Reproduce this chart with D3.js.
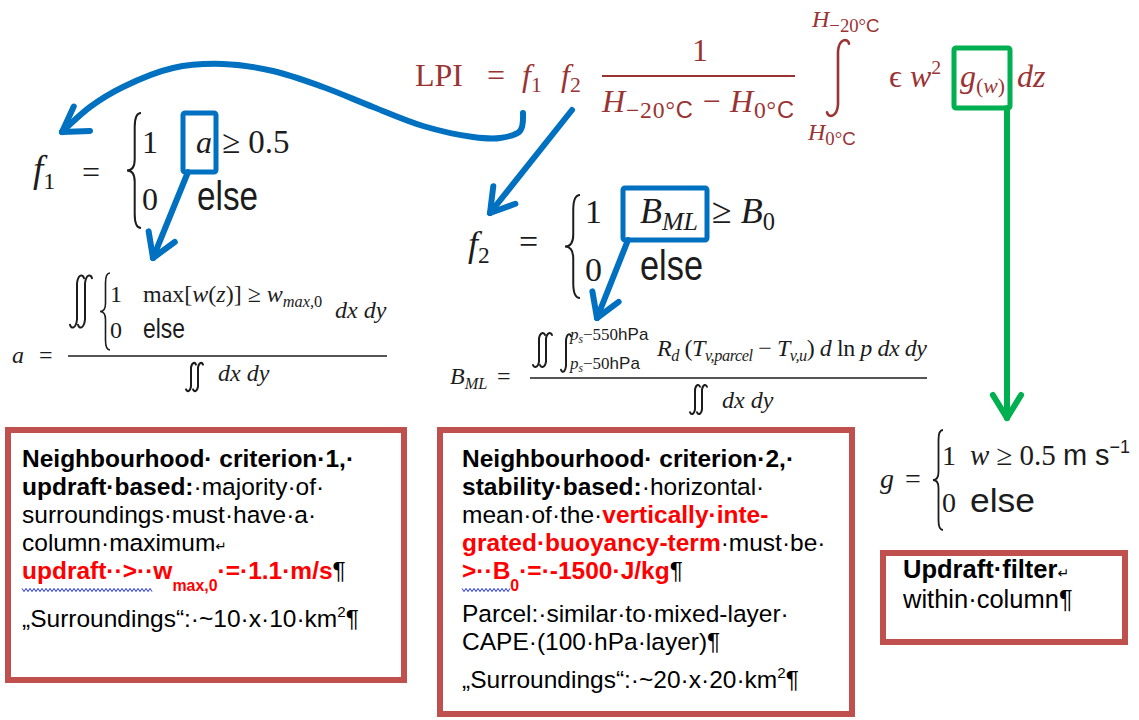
<!DOCTYPE html>
<html>
<head>
<meta charset="utf-8">
<title>LPI – neighbourhood criteria</title>
<script src="https://cdn.jsdelivr.net/npm/d3@7"></script>
<style>
  body { margin: 0; background: #fff; }
  svg text { white-space: pre; }
</style>
</head>
<body>
<div id="chart"></div>
<script>
// ---- text content (pieces: [text, flags]) ----
// flags: i italic, s sans, _ subscript, ^ superscript, r red bold, b bold, m mark, w wavy underline, ~ small
var criterion1 = [
  [["Neighbourhood· criterion·1,·", "b"]],
  [["updraft·based:", "b"], ["·majority·of·", ""]],
  [["surroundings·must·have·a·", ""]],
  [["column·maximum", ""], ["↵", "m~"]],
  [["updraft··>··", "rw"], ["w", "r"], ["max,0", "r_"], ["·=·1.1·m/s", "r"], ["¶", "m"]],
  [["„Surroundings“:·~10·x·10·km", ""], ["2", "^"], ["¶", "m"]]
];
var criterion2 = [
  [["Neighbourhood· criterion·2,·", "b"]],
  [["stability·based:", "b"], ["·horizontal·", ""]],
  [["mean·of·the·", ""], ["vertically·inte-", "r"]],
  [["grated·buoyancy-term", "r"], ["·must·be·", ""]],
  [[">··B", "rw"], ["0", "r_"], ["·=·-1500·J/kg", "r"], ["¶", "m"]],
  [["Parcel:·similar·to·mixed-layer·", ""]],
  [["CAPE·(100·hPa·layer)¶", ""]],
  [["„Surroundings“:·~20·x·20·km", ""], ["2", "^"], ["¶", "m"]]
];
var filterBox = [
  [["Updraft·filter", "b"], ["↵", "m~"]],
  [["within·column¶", ""]]
];

// formula parts
var lpiParts = {
  lhs: [["LPI", ""]],
  eq: [["=", ""]],
  f1: [["f", "i"], ["1", "_"]],
  f2: [["f", "i"], ["2", "_"]],
  num: [["1", ""]],
  den: [["H", "i"], ["−20°", "_"], ["C", "s_"], [" − ", ""], ["H", "i"], ["0°", "_"], ["C", "s_"]],
  upper: [["H", "i"], ["−20°", "_"], ["C", "s_"]],
  lower: [["H", "i"], ["0°", "_"], ["C", "s_"]],
  ew: [["ϵ", ""], [" ", ""], ["w", "i"], ["2", "^"]],
  g: [["g", "i"], ["(", "_"], ["w", "i_"], [")", "_"]],
  dz: [["dz", "i"]]
};
var f1Var = [["a", "i"]];
var f1Cond = [["≥ 0.5", ""]];
var f2Var = [["B", "i"], ["ML", "i_"]];
var f2Cond = [["≥ ", ""], ["B", "i"], ["0", "_"]];
var aCase = [["max[", ""], ["w", "i"], ["(", ""], ["z", "i"], [")] ≥ ", ""], ["w", "i"], ["max,", "i_"], ["0", "_"]];
var bInner = [["R", "i"], ["d", "i_"], [" (", ""], ["T", "i"], ["v,parcel", "i_"], [" − ", ""], ["T", "i"], ["v,u", "i_"],
  [") ", ""], ["d", "i"], [" ln ", ""], ["p", "i"], [" dx dy", "i"]];
var bUpper = [["p", "i"], ["s", "i_"], ["−550", ""], ["hPa", "s"]];
var bLower = [["p", "i"], ["s", "i_"], ["−50", ""], ["hPa", "s"]];
var gCase = [["w", "i"], [" ≥ 0.5 ", ""], ["m s", "s"], ["−1", "s^"]];

// ---- drawing ----
var SERIF = "'Liberation Serif','Times New Roman','DejaVu Serif',serif";
var SANS = "'Liberation Sans',Arial,'DejaVu Sans',sans-serif";
var DARKRED = "#9a3434", INK = "#1c1c1c", RED = "#ff0000",
    BLUE = "#0070c0", GREEN = "#00b050", BOXRED = "#c0504d";

var svg = d3.select("#chart").append("svg")
  .attr("width", 1139).attr("height", 720)
  .style("background", "#fff");

function rich(g, x, y, pieces, o) {
  var t = g.append("text").attr("x", x).attr("y", y)
    .attr("font-family", o.family).attr("font-size", o.size).attr("fill", o.fill);
  var cur = 0, wavy = [];
  pieces.forEach(function (p) {
    var f = p[1] || "", size = o.size, shift = 0;
    if (f.indexOf("_") >= 0) { size = o.size * (o.subScale || 0.68); shift = o.size * (o.subShift || 0.2); }
    if (f.indexOf("^") >= 0) { size = o.size * 0.62; shift = -o.size * 0.4; }
    if (f.indexOf("~") >= 0) size = o.size * 0.55;
    var ts = t.append("tspan").text(p[0]).attr("dy", shift - cur).attr("font-size", size);
    cur = shift;
    if (f.indexOf("i") >= 0) ts.attr("font-style", "italic");
    if (f.indexOf("b") >= 0) ts.attr("font-weight", "bold");
    if (f.indexOf("s") >= 0) ts.attr("font-family", SANS);
    if (f.indexOf("r") >= 0) ts.attr("fill", RED).attr("font-weight", "bold");
    if (f.indexOf("m") >= 0) ts.attr("fill", "#000").attr("font-weight", "normal");
    if (f.indexOf("w") >= 0) wavy.push(ts.node());
  });
  if (o.width) t.attr("textLength", o.width).attr("lengthAdjust", "spacing");
  wavy.forEach(function (n) {
    var x0 = n.getStartPositionOfChar(0).x, len = n.getComputedTextLength();
    var pts = [], k = 0;
    for (var xx = x0; xx <= x0 + len; xx += 2, k++) pts.push([xx, y + 11 + (k % 2 ? 1.6 : -1.6)]);
    g.append("path").attr("d", d3.line()(pts)).attr("fill", "none")
      .attr("stroke", "#2233ee").attr("stroke-width", 1);
  });
  return t;
}

function brace(g, x, y0, y1, w, sw) {
  var ym = (y0 + y1) / 2, c = x + w * 0.55, r = Math.min(w, (y1 - y0) / 6);
  var d = "M" + (x + w) + "," + y0 +
    " Q" + c + "," + y0 + " " + c + "," + (y0 + r) +
    " L" + c + "," + (ym - r * 0.8) +
    " Q" + c + "," + ym + " " + x + "," + ym +
    " Q" + c + "," + ym + " " + c + "," + (ym + r * 0.8) +
    " L" + c + "," + (y1 - r) +
    " Q" + c + "," + y1 + " " + (x + w) + "," + y1;
  g.append("path").attr("d", d).attr("fill", "none").attr("stroke", INK).attr("stroke-width", sw || 2);
}

function integral(g, cx, y0, y1, w, color, sw) {
  var h = y1 - y0;
  var d = "M" + (cx + w / 2) + "," + (y0 + h * 0.06) +
    " C" + (cx + w / 2 - 1) + "," + (y0 - 1) + " " + (cx + 1) + "," + (y0 - 1) + " " + cx + "," + (y0 + h * 0.16) +
    " L" + cx + "," + (y1 - h * 0.16) +
    " C" + (cx - 1) + "," + (y1 + 1) + " " + (cx - w / 2 + 1) + "," + (y1 + 1) + " " + (cx - w / 2) + "," + (y1 - h * 0.06);
  g.append("path").attr("d", d).attr("fill", "none").attr("stroke", color || INK)
    .attr("stroke-width", sw || 2).attr("stroke-linecap", "round");
}

function rule(g, x0, x1, y, color, sw) {
  g.append("line").attr("x1", x0).attr("x2", x1).attr("y1", y).attr("y2", y)
    .attr("stroke", color || INK).attr("stroke-width", sw || 1.5);
}

function elseWord(g, x, y, size, width) {
  g.append("text").attr("x", x).attr("y", y).attr("font-family", SANS)
    .attr("font-size", size).attr("fill", INK)
    .attr("textLength", width).attr("lengthAdjust", "spacingAndGlyphs").text("else");
}

function arrowHead(g, tip, from, len, spread, color, sw) {
  var a = Math.atan2(from[1] - tip[1], from[0] - tip[0]);
  [-spread, spread].forEach(function (s) {
    g.append("line").attr("x1", tip[0]).attr("y1", tip[1])
      .attr("x2", tip[0] + len * Math.cos(a + s)).attr("y2", tip[1] + len * Math.sin(a + s))
      .attr("stroke", color).attr("stroke-width", sw).attr("stroke-linecap", "round");
  });
}

var F = svg.append("g");

// --- top LPI formula ---
var sTop = { family: SERIF, size: 32, fill: DARKRED };
rich(F, 415, 86, lpiParts.lhs, sTop);
rich(F, 487, 86, lpiParts.eq, sTop);
rich(F, 522, 86, lpiParts.f1, sTop);
rich(F, 561, 86, lpiParts.f2, sTop);
rich(F, 692, 61, lpiParts.num, sTop);
rule(F, 602, 795, 76, DARKRED, 2);
rich(F, 602, 112, lpiParts.den, { family: SERIF, size: 32, fill: DARKRED, subScale: 0.74, width: 192 });
rich(F, 812, 27, lpiParts.upper, { family: SERIF, size: 24, fill: DARKRED, subScale: 0.78 });
rich(F, 808, 140, lpiParts.lower, { family: SERIF, size: 24, fill: DARKRED, subScale: 0.78 });
integral(F, 838, 39, 117, 22, DARKRED, 2.6);
rich(F, 889, 87, lpiParts.ew, sTop);
rich(F, 960, 87, lpiParts.g, sTop);
rich(F, 1017, 87, lpiParts.dz, sTop);

// --- f1 ---
var s32 = { family: SERIF, size: 32, fill: INK };
rich(F, 33, 182, lpiParts.f1, { family: SERIF, size: 37, fill: INK, subScale: 0.65 });
rich(F, 82, 183, lpiParts.eq, s32);
brace(F, 127, 113, 228, 14, 2);
rich(F, 142, 153, [["1", ""]], s32);
rich(F, 196, 153, f1Var, s32);
rich(F, 222, 153, f1Cond, { family: SERIF, size: 33, fill: INK });
rich(F, 142, 210, [["0", ""]], s32);
elseWord(F, 197, 210, 40, 61);

// --- f2 ---
var s34 = { family: SERIF, size: 34, fill: INK };
rich(F, 468, 256, lpiParts.f2, { family: SERIF, size: 36, fill: INK, subScale: 0.65 });
rich(F, 519, 253, lpiParts.eq, s34);
brace(F, 565, 195, 298, 15, 2);
rich(F, 585, 223, [["1", ""]], s34);
rich(F, 640, 223, f2Var, { family: SERIF, size: 36, fill: INK, subScale: 0.72 });
rich(F, 712, 223, f2Cond, { family: SERIF, size: 36, fill: INK });
rich(F, 585, 281, [["0", ""]], s34);
elseWord(F, 640, 280, 42, 63);

// --- a ---
var s24 = { family: SERIF, size: 24, fill: INK };
rich(F, 12, 363, [["a", "i"]], s24);
rich(F, 39, 363, [["=", ""]], s24);
rule(F, 68, 387, 356);
integral(F, 77, 275, 328, 14);
integral(F, 85, 275, 328, 14);
brace(F, 100, 273, 350, 10, 1.6);
rich(F, 110, 302, [["1", ""]], s24);
rich(F, 143, 302, aCase, s24);
rich(F, 110, 338, [["0", ""]], s24);
elseWord(F, 143, 338, 27, 42);
rich(F, 335, 318, [["dx dy", "i"]], s24);
integral(F, 191, 363, 391, 10);
integral(F, 198, 363, 391, 10);
rich(F, 218, 381, [["dx dy", "i"]], s24);

// --- B_ML ---
rich(F, 450, 384, f2Var, s24);
rich(F, 497, 384, [["=", ""]], s24);
rule(F, 530, 927, 378);
integral(F, 539, 333, 367, 12);
integral(F, 546, 333, 367, 12);
integral(F, 566, 334, 372, 10);
rich(F, 570, 340, bUpper, { family: SERIF, size: 17, fill: INK });
rich(F, 570, 369, bLower, { family: SERIF, size: 17, fill: INK });
rich(F, 657, 356, bInner, { family: SERIF, size: 24, fill: INK, width: 270 });
integral(F, 695, 385, 414, 10);
integral(F, 702, 385, 414, 10);
rich(F, 722, 408, [["dx dy", "i"]], s24);

// --- g ---
var s28 = { family: SERIF, size: 28, fill: INK };
rich(F, 880, 488, [["g", "i"]], s28);
rich(F, 905, 488, [["=", ""]], s28);
brace(F, 933, 430, 530, 10, 1.8);
rich(F, 942, 465, [["1", ""]], s28);
rich(F, 970, 465, gCase, { family: SERIF, size: 29, fill: INK, width: 160 });
rich(F, 942, 512, [["0", ""]], s28);
elseWord(F, 970, 512, 33, 65);

// --- highlight boxes and arrows ---
var A = svg.append("g");
[[183, 113, 33, 59], [623, 188, 84, 52]].forEach(function (b) {
  A.append("rect").attr("x", b[0]).attr("y", b[1]).attr("width", b[2]).attr("height", b[3])
    .attr("rx", 2).attr("fill", "none").attr("stroke", BLUE).attr("stroke-width", 5);
});
A.append("rect").attr("x", 954).attr("y", 48).attr("width", 56).attr("height", 60)
  .attr("rx", 2).attr("fill", "none").attr("stroke", GREEN).attr("stroke-width", 5);

var curvePts = [[523, 113], [520, 131], [500, 138], [473, 137], [423, 126], [373, 107], [323, 87],
  [273, 71], [223, 64], [173, 68], [123, 87], [90, 107], [62, 132]];
A.append("path").attr("d", d3.line().curve(d3.curveCatmullRom)(curvePts))
  .attr("fill", "none").attr("stroke", BLUE).attr("stroke-width", 6).attr("stroke-linecap", "round");
arrowHead(A, [62, 132], [92, 112], 28, 0.55, BLUE, 6);

var straight = [
  [[572, 110], [490, 213], BLUE],
  [[188, 172], [153, 258], BLUE],
  [[628, 240], [597, 318], BLUE],
  [[1007, 108], [1007, 418], GREEN]
];
straight.forEach(function (s) {
  A.append("line").attr("x1", s[0][0]).attr("y1", s[0][1]).attr("x2", s[1][0]).attr("y2", s[1][1])
    .attr("stroke", s[2]).attr("stroke-width", 6).attr("stroke-linecap", "round");
  arrowHead(A, s[1], s[0], 27, 0.55, s[2], 6);
});

// --- text boxes ---
var B = svg.append("g");
var boxes = [
  { rect: [8, 430, 396, 250], x: 22, size: 24.5, lines: criterion1, ys: [467, 495, 523, 551, 579, 627] },
  { rect: [440, 430, 412, 284], x: 462, size: 24.5, lines: criterion2, ys: [467, 495, 523, 551, 579, 622, 650, 688] },
  { rect: [883, 553, 242, 89], x: 903, size: 25.5, lines: filterBox, ys: [578, 608] }
];
boxes.forEach(function (bx) {
  B.append("rect").attr("x", bx.rect[0]).attr("y", bx.rect[1]).attr("width", bx.rect[2]).attr("height", bx.rect[3])
    .attr("fill", "#fff").attr("stroke", BOXRED).attr("stroke-width", 6);
  bx.lines.forEach(function (ln, i) {
    rich(B, bx.x, bx.ys[i], ln, { family: SANS, size: bx.size, fill: "#000", subScale: 0.65, subShift: 0.48 });
  });
});
</script>
</body>
</html>
